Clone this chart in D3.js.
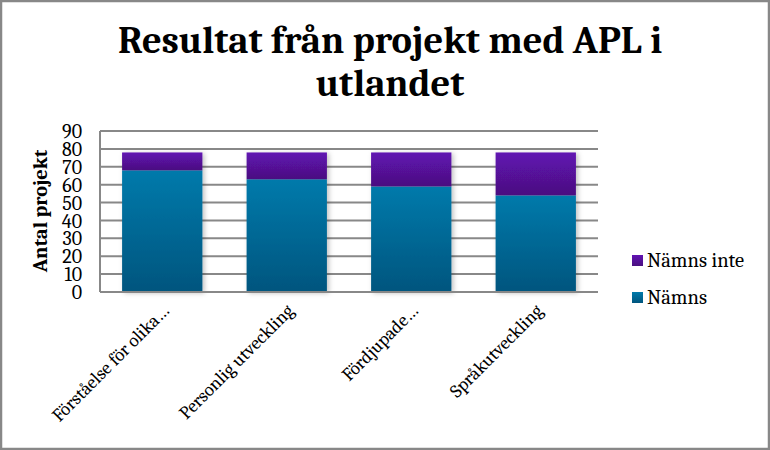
<!DOCTYPE html>
<html><head><meta charset="utf-8">
<script src="https://cdn.jsdelivr.net/npm/d3@7/dist/d3.min.js"></script>
<style>body{margin:0;background:#fff}svg{display:block}</style>
</head><body>
<script>
const categories = ["Förståelse för olika…", "Personlig utveckling", "Fördjupade…", "Språkutveckling"];
const namns = [68, 63, 59, 54];
const namnsInte = [10, 15, 19, 24];
const seriesNames = ["Nämns", "Nämns inte"];
const yTicks = [0,10,20,30,40,50,60,70,80,90];
const titleLines = ["Resultat från projekt med APL i", "utlandet"];
const yTitle = "Antal projekt";

const W = 770, H = 450;
const serif = "Cambria, Caladea, 'Liberation Serif', serif";
const svg = d3.select("body").append("svg").attr("width", W).attr("height", H);
const defs = svg.append("defs");
function grad(id, top, bot){
  const g = defs.append("linearGradient").attr("id", id).attr("x1",0).attr("y1",0).attr("x2",0).attr("y2",1);
  g.append("stop").attr("offset","0%").attr("stop-color", top);
  g.append("stop").attr("offset","100%").attr("stop-color", bot);
}
grad("gBlue", "#007aab", "#00557e");
grad("gPurple", "#6113b2", "#4a1080");
const f = defs.append("filter").attr("id","shadow").attr("x","-20%").attr("y","-20%").attr("width","150%").attr("height","150%");
f.append("feDropShadow").attr("dx",2).attr("dy",1).attr("stdDeviation",2.5).attr("flood-color","#000").attr("flood-opacity",0.25);

svg.append("rect").attr("x",1).attr("y",1).attr("width",W-2).attr("height",H-2)
  .attr("fill","#fff").attr("stroke","#888").attr("stroke-width",2.5);

// title
svg.append("g").selectAll("text").data(titleLines).join("text")
  .attr("x", 390).attr("y",(d,i)=>53+i*43)
  .attr("text-anchor","middle").attr("font-family",serif).attr("font-weight","bold")
  .attr("font-size",38.5).attr("fill","#000").text(d=>d);

const x = d3.scaleBand().domain(categories).range([100, 598]).paddingInner(0.355).paddingOuter(0.1775);
const y = d3.scaleLinear().domain([0,90]).range([292,131]);

// gridlines
svg.append("g").selectAll("line").data(yTicks).join("line")
  .attr("x1",100).attr("x2",598).attr("y1",d=>y(d)).attr("y2",d=>y(d))
  .attr("stroke","#888").attr("stroke-width",2);
svg.append("line").attr("x1",100).attr("x2",100).attr("y1",y(90)).attr("y2",y(0)).attr("stroke","#888").attr("stroke-width",2);

// y axis labels
const yAxis = d3.axisLeft(y).tickValues(yTicks).tickSize(0).tickPadding(18);
const ya = svg.append("g").attr("transform","translate(100,0)").call(yAxis);
ya.select(".domain").remove();
ya.selectAll("text").attr("font-family",serif).attr("font-size",20).attr("fill","#000").attr("dy","0.33em");

svg.append("text").attr("transform","translate(47,211) rotate(-90)")
  .attr("text-anchor","middle").attr("font-family",serif).attr("font-weight","bold").attr("font-size",20.5)
  .text(yTitle);

// bars
const data = categories.map((c,i)=>({c, a:namns[i], b:namnsInte[i]}));
const bars = svg.append("g").attr("filter","url(#shadow)");
bars.selectAll("rect.a").data(data).join("rect").attr("class","a")
  .attr("x",d=>x(d.c)).attr("width",x.bandwidth())
  .attr("y",d=>y(d.a)).attr("height",d=>y(0)-y(d.a)).attr("fill","url(#gBlue)");
bars.selectAll("rect.b").data(data).join("rect").attr("class","b")
  .attr("x",d=>x(d.c)).attr("width",x.bandwidth())
  .attr("y",d=>y(d.a+d.b)).attr("height",d=>y(d.a)-y(d.a+d.b)).attr("fill","url(#gPurple)");

// bottom axis line over bars
svg.append("line").attr("x1",100).attr("x2",598).attr("y1",y(0)).attr("y2",y(0)).attr("stroke","#888").attr("stroke-width",2);

// category labels
svg.append("g").selectAll("text").data(categories).join("text")
  .attr("transform",d=>`translate(${x(d)+x.bandwidth()/2+8},${y(0)+20}) rotate(-45)`)
  .attr("text-anchor","end").attr("font-family",serif).attr("font-size",18.5).attr("fill","#000")
  .text(d=>d);

// legend
const legendItems = [{n:seriesNames[1], g:"url(#gPurple)"},{n:seriesNames[0], g:"url(#gBlue)"}];
const lg = svg.append("g").selectAll("g").data(legendItems).join("g")
  .attr("transform",(d,i)=>`translate(632,${255+i*37})`);
lg.append("rect").attr("width",11).attr("height",11).attr("fill",d=>d.g);
lg.append("text").attr("x",15).attr("y",12).attr("font-family",serif).attr("font-size",20.5).text(d=>d.n);
</script>
</body></html>
